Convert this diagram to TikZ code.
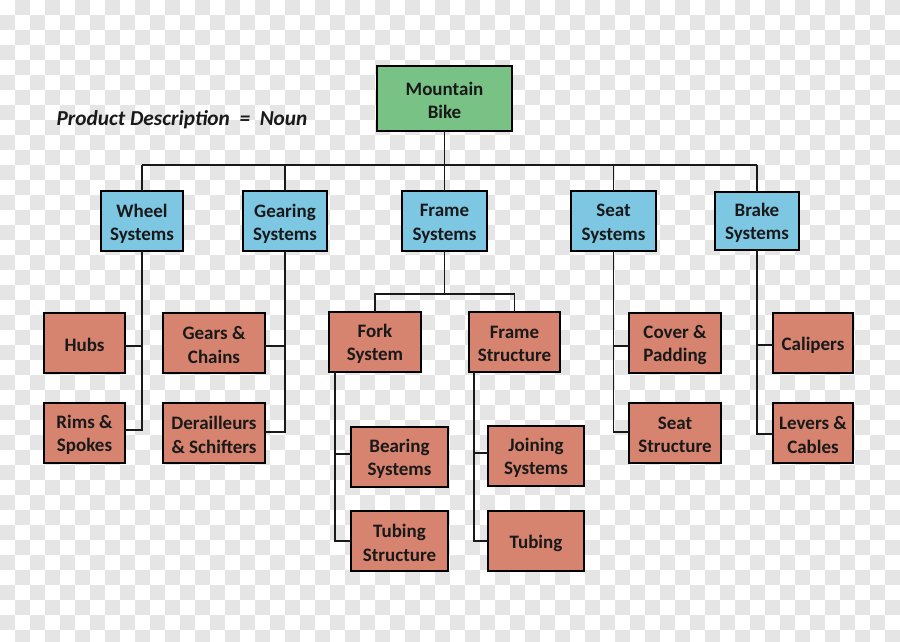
\documentclass[tikz,border=0pt]{standalone}
\usepackage{fontspec}
\setmainfont{Carlito}
\definecolor{mbgreen}{RGB}{121,194,134}
\definecolor{sysblue}{RGB}{126,199,227}
\definecolor{partred}{RGB}{214,131,111}
\definecolor{checkgray}{RGB}{229,229,229}
\definecolor{inktext}{RGB}{25,25,25}
\tikzset{
  basebox/.style={draw=black, line width=1.5pt, inner sep=0pt, outer sep=0pt, minimum height=60pt},
  topbox/.style={basebox, fill=mbgreen},
  sysbox/.style={basebox, fill=sysblue},
  partbox/.style={basebox, fill=partred},
  boxtext/.style={inner sep=0pt, align=center, text=inktext, font=\fontsize{19}{23.5}\selectfont\bfseries},
  wire/.style={draw=black!90, line width=1.8pt}
}
\newcommand\mkbox[6]{%
  \node[#1, minimum width=#4pt] (#2) at (#3) {};
  \node[boxtext] (#2-t) at ([yshift=#6]#2.center) {#5};
}
\begin{document}
\begin{tikzpicture}[x=1pt,y=-1pt]
\useasboundingbox (0,0) rectangle (900,642);
\fill[white] (0,0) rectangle (900,642);
\foreach \j in {0,...,42}{
  \pgfmathtruncatemacro{\off}{mod(\j,2)}
  \pgfmathtruncatemacro{\yy}{\j*15}
  \foreach \i in {0,...,29}{
    \pgfmathtruncatemacro{\xx}{(2*\i+1-\off)*15}
    \fill[checkgray] (\xx,\yy) rectangle ++(15,15);
  }
}

% label
\node[font=\fontsize{21.3}{25}\selectfont\bfseries\itshape, text=inktext, inner sep=0pt] (pd) at (182,120) {Product Description\ \ =\ \ Noun};

\coordinate (bus) at (444.5,165);
\coordinate (split) at (444.5,294);

% boxes
\mkbox{topbox, minimum height=65pt}{mb}{444.5,98.5}{135}{Mountain\\Bike}{-2pt}

\mkbox{sysbox}{wheel}{142,221}{82}{Wheel\\Systems}{-3pt}
\mkbox{sysbox}{gearing}{285,221}{84}{Gearing\\Systems}{-3pt}
\mkbox{sysbox}{frame}{444.5,221}{85}{Frame\\Systems}{-3pt}
\mkbox{sysbox}{seat}{613.5,221}{85}{Seat\\Systems}{-3pt}
\mkbox{sysbox, minimum height=58pt}{brake}{757,221}{84}{Brake\\Systems}{-2pt}

\mkbox{partbox}{hubs}{84.5,343}{81}{Hubs}{-2pt}
\mkbox{partbox}{rims}{84.5,433}{81}{Rims \&\\Spokes}{-2pt}
\mkbox{partbox}{gears}{214,343}{102}{Gears \&\\Chains}{-2pt}
\mkbox{partbox}{derail}{214,433}{102}{Derailleurs\\\& Schifters}{-2pt}
\mkbox{partbox}{fork}{375,342}{92}{Fork\\System}{-2pt}
\mkbox{partbox}{fstruct}{514.5,342}{91}{Frame\\Structure}{-2pt}
\mkbox{partbox}{bearing}{399.5,457}{97}{Bearing\\Systems}{-2pt}
\mkbox{partbox}{tubstruct}{399.5,541}{97}{Tubing\\Structure}{-2pt}
\mkbox{partbox}{joining}{536,456}{96}{Joining\\Systems}{-2pt}
\mkbox{partbox}{tubing}{536,541}{96}{Tubing}{-2pt}
\mkbox{partbox}{cover}{675,343}{92}{Cover \&\\Padding}{-2pt}
\mkbox{partbox}{seatstruct}{675,433}{92}{Seat\\Structure}{-2pt}
\mkbox{partbox}{calipers}{813,343}{80}{Calipers}{-2pt}
\mkbox{partbox}{levers}{813,433}{80}{Levers \&\\Cables}{-2pt}

\draw[wire] (mb.south) -- (bus);
\draw[wire] (wheel.north |- bus) -- (brake.north |- bus);
\foreach \n in {wheel,gearing,frame,seat,brake}{
  \draw[wire] (\n.north) -- (\n.north |- bus);
}
\draw[wire] ([yshift=-3pt]hubs.east) -| (wheel.south);
\draw[wire] ([yshift=3pt]rims.east) -| (wheel.south);
\draw[wire] ([yshift=-3pt]gears.east) -| (gearing.south);
\draw[wire] ([yshift=1pt]derail.east) -| (gearing.south);
\draw[wire] (frame.south) -- (split);
\draw[wire] (fork.north) |- (split) -| (fstruct.north);
\draw[wire] ([xshift=6pt]fork.south west) |- ([yshift=3pt]bearing.west);
\draw[wire] ([xshift=6pt]fork.south west) |- (tubstruct.west);
\draw[wire] ([xshift=5pt]fstruct.south west) |- ([yshift=3pt]joining.west);
\draw[wire] ([xshift=5pt]fstruct.south west) |- (tubing.west);
\draw[wire] (seat.south) |- ([yshift=-3pt]cover.west);
\draw[wire] (seat.south) |- ([yshift=1pt]seatstruct.west);
\draw[wire] (brake.south) |- ([yshift=-2pt]calipers.west);
\draw[wire] (brake.south) |- ([yshift=-1pt]levers.west);
\end{tikzpicture}
\end{document}
